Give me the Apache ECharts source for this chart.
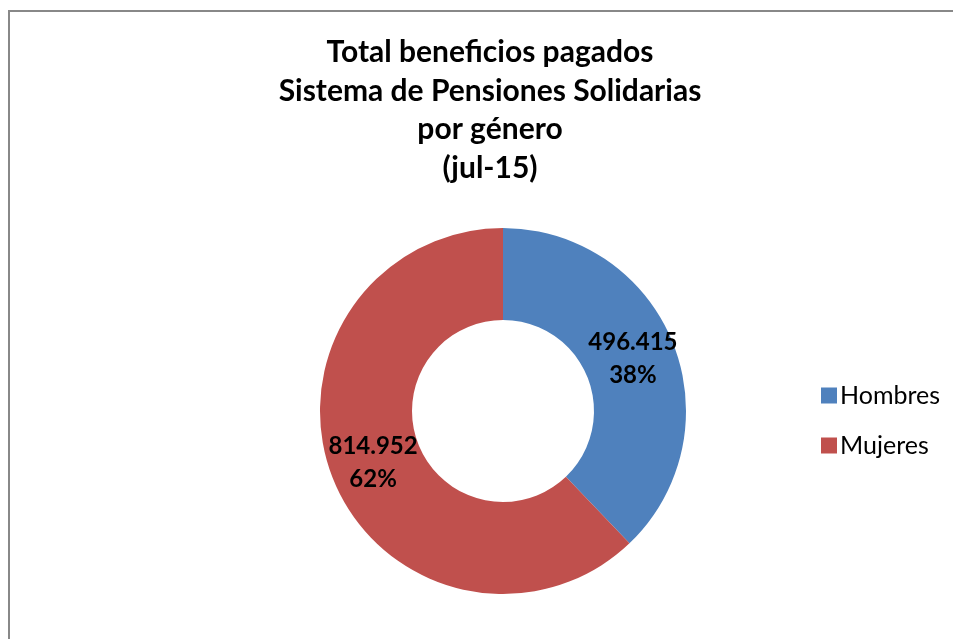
<!DOCTYPE html>
<html>
<head>
<meta charset="utf-8">
<style>
html,body{margin:0;padding:0;background:#fff;}
#chart{width:953px;height:639px;}
</style>
<script src="https://cdn.jsdelivr.net/npm/echarts@6/dist/echarts.min.js"></script>
</head>
<body>
<div id="chart"></div>
<script>
const titleLines = ['Total beneficios pagados', 'Sistema de Pensiones Solidarias', 'por género', '(jul-15)'];
const categories = ['Hombres', 'Mujeres'];
const values = [496415, 814952];
const colors = ['#4F81BD', '#C0504D'];

function fmtThousands(v) {
  return String(Math.round(v)).replace(/\B(?=(\d{3})+(?!\d))/g, '.');
}

const chart = echarts.init(document.getElementById('chart'));
chart.setOption({
  animation: false,
  backgroundColor: '#fff',
  title: {
    text: titleLines.join('\n'),
    left: 490,
    textAlign: 'center',
    top: 33,
    padding: 0,
    textStyle: {
      fontFamily: 'Lato',
      fontWeight: 'bold',
      fontSize: 30,
      lineHeight: 38.7,
      color: '#000'
    }
  },
  legend: {
    orient: 'vertical',
    left: 816,
    top: 378,
    itemWidth: 16,
    itemHeight: 16,
    itemGap: 25,
    icon: 'rect',
    data: categories,
    textStyle: {
      fontFamily: 'Lato',
      fontSize: 25,
      lineHeight: 24,
      color: '#000',
      padding: [0, 0, 0, -2]
    }
  },
  graphic: [{
    type: 'rect',
    silent: true,
    shape: { x: 9, y: 11, width: 1200, height: 1000 },
    style: { fill: 'none', stroke: '#888888', lineWidth: 2 }
  }],
  series: [{
    type: 'pie',
    center: [503, 411],
    radius: [91, 183],
    startAngle: 90,
    clockwise: true,
    avoidLabelOverlap: false,
    emphasis: { disabled: true },
    itemStyle: { borderWidth: 0 },
    label: {
      show: true,
      position: 'inside',
      fontFamily: 'Lato',
      fontWeight: 'bold',
      fontSize: 24,
      lineHeight: 33,
      color: '#000',
      formatter: function (p) {
        return fmtThousands(p.value) + '\n' + Math.round(p.percent) + '%';
      }
    },
    labelLine: { show: false },
    data: categories.map(function (c, i) {
      return { name: c, value: values[i], itemStyle: { color: colors[i] } };
    })
  }]
});
</script>
</body>
</html>
